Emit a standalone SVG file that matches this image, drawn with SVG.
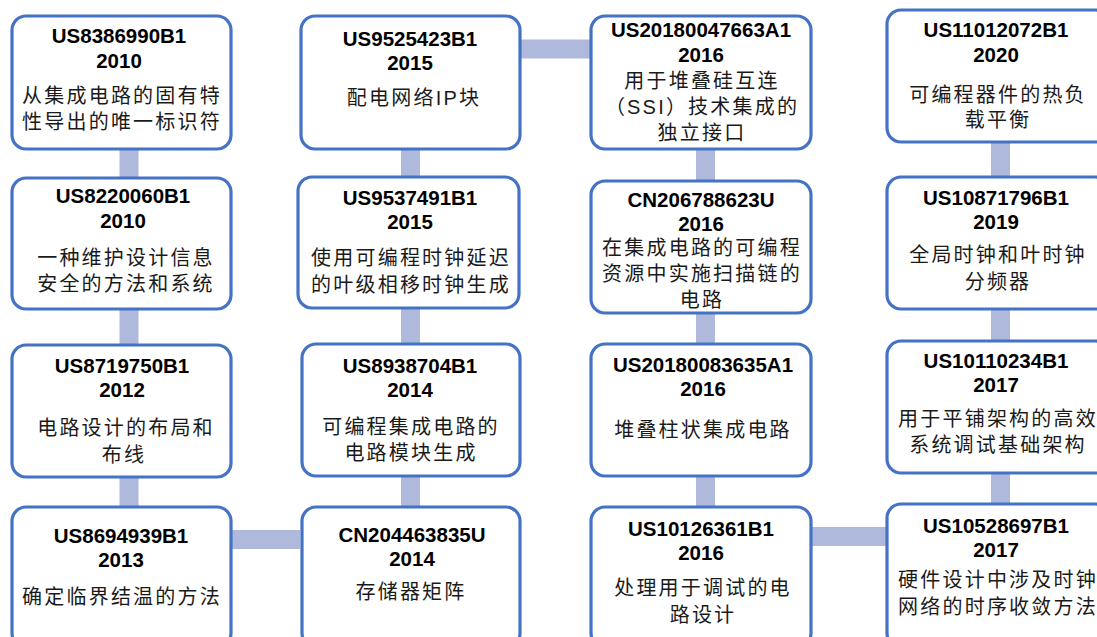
<svg xmlns="http://www.w3.org/2000/svg" width="1097" height="637" viewBox="0 0 1097 637">
<style>
.box{fill:#fff;stroke:#4472C4;stroke-width:3.2}
.con{stroke:#AEB9DC;stroke-width:19;fill:none}
text{text-anchor:middle}
.id{font-family:"Liberation Sans",Arial,sans-serif;font-weight:700;font-size:20.5px;fill:#000}
.cn{font-family:"Liberation Sans","Noto Sans CJK SC",sans-serif;font-weight:400;font-size:20px;letter-spacing:2.2px;fill:#1a1a1a}
</style>
<rect width="1097" height="637" fill="#fff"/>
<g id="connectors">
<line class="con" x1="129" y1="149" x2="129" y2="507"/>
<line class="con" x1="410.5" y1="149" x2="410.5" y2="507"/>
<line class="con" x1="705.5" y1="149" x2="705.5" y2="507"/>
<line class="con" x1="1000.5" y1="142" x2="1000.5" y2="504"/>
<line class="con" x1="231" y1="539.5" x2="300" y2="539.5"/>
<line class="con" x1="520" y1="49" x2="591" y2="49"/>
<line class="con" x1="811" y1="536.5" x2="887" y2="536.5"/>
</g>
<g id="n1"><rect class="box" x="12" y="16" width="219" height="133" rx="14"/>
<text><tspan class="id" x="119" y="43">US8386990B1</tspan><tspan class="id" x="119" y="68">2010</tspan><tspan class="cn" x="122" y="103">从集成电路的固有特</tspan><tspan class="cn" x="122" y="129">性导出的唯一标识符</tspan></text></g>
<g id="n2"><rect class="box" x="12" y="178" width="219" height="131" rx="14"/>
<text><tspan class="id" x="123" y="203">US8220060B1</tspan><tspan class="id" x="123" y="228">2010</tspan><tspan class="cn" x="126" y="265">一种维护设计信息</tspan><tspan class="cn" x="126" y="291">安全的方法和系统</tspan></text></g>
<g id="n3"><rect class="box" x="12" y="345" width="219" height="132" rx="14"/>
<text><tspan class="id" x="122" y="373">US8719750B1</tspan><tspan class="id" x="122" y="397">2012</tspan><tspan class="cn" x="126" y="435">电路设计的布局和</tspan><tspan class="cn" x="124" y="462">布线</tspan></text></g>
<g id="n4"><rect class="box" x="12" y="507" width="219" height="140" rx="14"/>
<text><tspan class="id" x="121" y="543">US8694939B1</tspan><tspan class="id" x="121" y="567">2013</tspan><tspan class="cn" x="122" y="604">确定临界结温的方法</tspan></text></g>
<g id="n5"><rect class="box" x="301" y="16" width="219" height="133" rx="14"/>
<text><tspan class="id" x="410" y="46">US9525423B1</tspan><tspan class="id" x="410" y="70">2015</tspan><tspan class="cn" x="414" y="105">配电网络IP块</tspan></text></g>
<g id="n6"><rect class="box" x="298" y="177" width="221" height="131" rx="14"/>
<text><tspan class="id" x="410" y="205">US9537491B1</tspan><tspan class="id" x="410" y="229">2015</tspan><tspan class="cn" x="411" y="265">使用可编程时钟延迟</tspan><tspan class="cn" x="411" y="292">的叶级相移时钟生成</tspan></text></g>
<g id="n7"><rect class="box" x="302" y="344" width="218" height="132" rx="14"/>
<text><tspan class="id" x="410" y="373">US8938704B1</tspan><tspan class="id" x="410" y="397">2014</tspan><tspan class="cn" x="411" y="434">可编程集成电路的</tspan><tspan class="cn" x="411" y="460">电路模块生成</tspan></text></g>
<g id="n8"><rect class="box" x="302" y="507" width="218" height="140" rx="14"/>
<text><tspan class="id" x="412" y="542">CN204463835U</tspan><tspan class="id" x="412" y="566">2014</tspan><tspan class="cn" x="411" y="599">存储器矩阵</tspan></text></g>
<g id="n9"><rect class="box" x="591" y="16" width="220" height="133" rx="14"/>
<text><tspan class="id" x="701" y="37">US20180047663A1</tspan><tspan class="id" x="701" y="62">2016</tspan><tspan class="cn" x="702" y="88">用于堆叠硅互连</tspan><tspan class="cn" x="702" y="114">（SSI）技术集成的</tspan><tspan class="cn" x="702" y="140">独立接口</tspan></text></g>
<g id="n10"><rect class="box" x="591" y="181" width="220" height="132" rx="14"/>
<text><tspan class="id" x="701" y="207">CN206788623U</tspan><tspan class="id" x="701" y="231">2016</tspan><tspan class="cn" x="702" y="255">在集成电路的可编程</tspan><tspan class="cn" x="702" y="281">资源中实施扫描链的</tspan><tspan class="cn" x="702" y="307">电路</tspan></text></g>
<g id="n11"><rect class="box" x="591" y="344" width="220" height="132" rx="14"/>
<text><tspan class="id" x="703" y="372">US20180083635A1</tspan><tspan class="id" x="703" y="396">2016</tspan><tspan class="cn" x="703" y="437">堆叠柱状集成电路</tspan></text></g>
<g id="n12"><rect class="box" x="591" y="507" width="220" height="140" rx="14"/>
<text><tspan class="id" x="701" y="536">US10126361B1</tspan><tspan class="id" x="701" y="560">2016</tspan><tspan class="cn" x="703" y="595">处理用于调试的电</tspan><tspan class="cn" x="703" y="622">路设计</tspan></text></g>
<g id="n13"><rect class="box" x="887" y="10" width="222" height="132" rx="14"/>
<text><tspan class="id" x="996" y="37">US11012072B1</tspan><tspan class="id" x="996" y="62">2020</tspan><tspan class="cn" x="998" y="102">可编程器件的热负</tspan><tspan class="cn" x="998" y="127">载平衡</tspan></text></g>
<g id="n14"><rect class="box" x="887" y="177" width="222" height="132" rx="14"/>
<text><tspan class="id" x="996" y="205">US10871796B1</tspan><tspan class="id" x="996" y="229">2019</tspan><tspan class="cn" x="998" y="262">全局时钟和叶时钟</tspan><tspan class="cn" x="998" y="289">分频器</tspan></text></g>
<g id="n15"><rect class="box" x="887" y="341" width="222" height="132" rx="14"/>
<text><tspan class="id" x="996" y="368">US10110234B1</tspan><tspan class="id" x="996" y="392">2017</tspan><tspan class="cn" x="998" y="426">用于平铺架构的高效</tspan><tspan class="cn" x="998" y="452">系统调试基础架构</tspan></text></g>
<g id="n16"><rect class="box" x="887" y="504" width="222" height="143" rx="14"/>
<text><tspan class="id" x="996" y="533">US10528697B1</tspan><tspan class="id" x="996" y="557">2017</tspan><tspan class="cn" x="998" y="587">硬件设计中涉及时钟</tspan><tspan class="cn" x="998" y="614">网络的时序收敛方法</tspan></text></g>
</svg>
